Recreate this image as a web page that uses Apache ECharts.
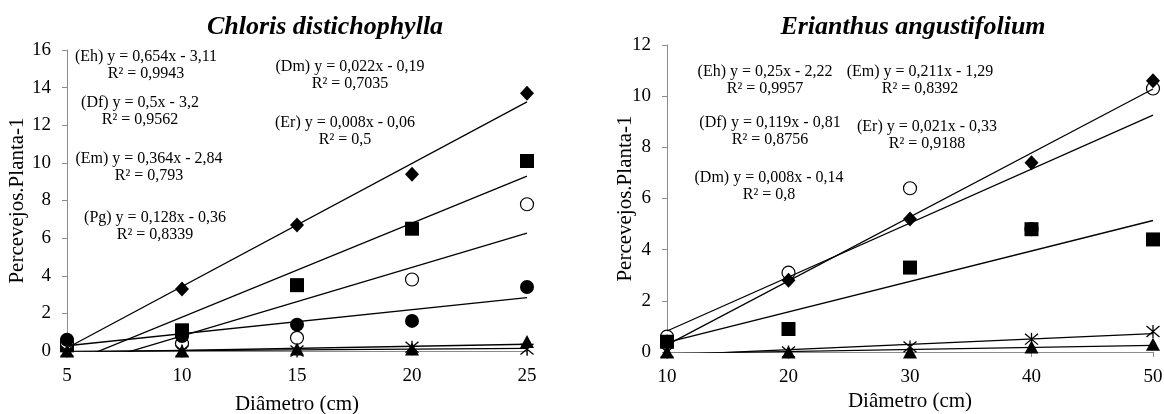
<!DOCTYPE html>
<html>
<head>
<meta charset="utf-8">
<script src="https://cdn.jsdelivr.net/npm/echarts@6/dist/echarts.min.js"></script>
<style>
  html, body { margin: 0; padding: 0; background: #fff; }
  #chart { width: 1164px; height: 414px; }
</style>
</head>
<body>
<div id="chart"></div>
<script>
// Chloris distichophylla (left)
var xLeft = [5, 10, 15, 20, 25];
var ehLeft = [0.4, 3.3, 6.7, 9.4, 13.7];
var dfLeft = [0.3, 1.1, 3.5, 6.5, 10.1];
var emLeft = [0.4, 0.4, 0.7, 3.8, 7.8];
var pgLeft = [0.6, 0.8, 1.4, 1.6, 3.4];
var dmLeft = [0, 0, 0.1, 0.1, 0.5];
var erLeft = [0, 0, 0, 0.2, 0.1];

// Erianthus angustifolium (right)
var xRight = [10, 20, 30, 40, 50];
var emRight = [0.6, 3.1, 6.4, 4.8, 10.3];
var ehRight = [0.4, 2.8, 5.2, 7.4, 10.6];
var dfRight = [0.4, 0.9, 3.3, 4.8, 4.4];
var erRight = [0, 0, 0.2, 0.5, 0.8];
var dmRight = [0, 0, 0, 0.2, 0.3];

// trendlines: slope, intercept
var slopeLeft = [0.654, 0.5, 0.364, 0.128, 0.022, 0.008];
var interLeft = [-3.11, -3.2, -2.84, -0.36, -0.19, -0.06];
var slopeRight = [0.25, 0.119, 0.008, 0.211, 0.021];
var interRight = [-2.22, -0.81, -0.14, -1.29, -0.33];

// tick labels
var xTicksLeft = [5, 10, 15, 20, 25];
var yTicksLeft = [0, 2, 4, 6, 8, 10, 12, 14, 16];
var xTicksRight = [10, 20, 30, 40, 50];
var yTicksRight = [0, 2, 4, 6, 8, 10, 12];

var eqLeft = ['(Eh) y = 0,654x - 3,11\nR² = 0,9943', '(Df) y = 0,5x - 3,2\nR² = 0,9562',
  '(Em) y = 0,364x - 2,84\nR² = 0,793', '(Pg) y = 0,128x - 0,36\nR² = 0,8339',
  '(Dm) y = 0,022x - 0,19\nR² = 0,7035', '(Er) y = 0,008x - 0,06\nR² = 0,5'];
var eqRight = ['(Eh) y = 0,25x - 2,22\nR² = 0,9957', '(Df) y = 0,119x - 0,81\nR² = 0,8756',
  '(Dm) y = 0,008x - 0,14\nR² = 0,8', '(Em) y = 0,211x - 1,29\nR² = 0,8392',
  '(Er) y = 0,021x - 0,33\nR² = 0,9188'];

var titles = ['Chloris distichophylla', 'Erianthus angustifolium'];
var xName = 'Diâmetro (cm)';
var yName = 'Percevejos.Planta-1';

var serif = '"Liberation Serif", "Times New Roman", serif';
var gray = '#8c8c8c';

// label placement (center x, top y)
var eqPosLeft = [[146, 48], [140, 94], [149, 150], [155, 209], [350, 58], [345, 114]];
var eqPosRight = [[765, 63], [770, 114], [769, 169], [920, 63], [927, 118]];

var chart = echarts.init(document.getElementById('chart'));

function pts(xs, ys) {
  return xs.map(function (x, i) { return [x, ys[i]]; });
}

var marks = {
  diamond: { symbol: 'diamond', symbolSize: [14, 15], itemStyle: { color: '#000', opacity: 1 } },
  square: { symbol: 'rect', symbolSize: 14, itemStyle: { color: '#000', opacity: 1 } },
  open: { symbol: 'circle', symbolSize: 13, itemStyle: { color: '#fff', borderColor: '#000', borderWidth: 1.2, opacity: 1 } },
  dot: { symbol: 'circle', symbolSize: 14, itemStyle: { color: '#000', opacity: 1 } },
  tri: { symbol: 'triangle', symbolSize: [14, 13], itemStyle: { color: '#000', opacity: 1 } },
  star: { symbol: 'path://M0 0L10 10M10 0L0 10M5 -1L5 11', symbolSize: 13,
    itemStyle: { color: 'none', borderColor: '#000', borderWidth: 1.3, opacity: 1 } }
};

function scatter(idx, xs, ys, m) {
  return Object.assign({
    type: 'scatter', xAxisIndex: idx, yAxisIndex: idx,
    data: pts(xs, ys), z: 2, clip: false, silent: true
  }, JSON.parse(JSON.stringify(m)));
}

function trend(idx, x0, x1, a, b) {
  return {
    type: 'line', xAxisIndex: idx, yAxisIndex: idx, z: 3, clip: true,
    symbol: 'none', silent: true,
    lineStyle: { color: '#000', width: 1.3 },
    data: [[x0, a * x0 + b], [x1, a * x1 + b]]
  };
}

var series = [
  scatter(0, xLeft, ehLeft, marks.diamond),
  scatter(0, xLeft, dfLeft, marks.square),
  scatter(0, xLeft, emLeft, marks.open),
  scatter(0, xLeft, pgLeft, marks.dot),
  scatter(0, xLeft, dmLeft, marks.tri),
  scatter(0, xLeft, erLeft, marks.star),
  scatter(1, xRight, emRight, marks.open),
  scatter(1, xRight, ehRight, marks.diamond),
  scatter(1, xRight, dfRight, marks.square),
  scatter(1, xRight, erRight, marks.star),
  scatter(1, xRight, dmRight, marks.tri)
];
slopeLeft.forEach(function (a, i) {
  series.push(trend(0, xLeft[0], xLeft[xLeft.length - 1], a, interLeft[i]));
});
slopeRight.forEach(function (a, i) {
  series.push(trend(1, xRight[0], xRight[xRight.length - 1], a, interRight[i]));
});

function xAxis(idx, min, max, step) {
  return {
    type: 'value', gridIndex: idx, min: min, max: max, interval: step,
    axisLine: { show: true, lineStyle: { color: gray, width: 1 } },
    axisTick: { show: true, length: 5, lineStyle: { color: gray } },
    axisLabel: { show: false },
    splitLine: { show: false }
  };
}
function yAxis(idx, max) {
  return {
    type: 'value', gridIndex: idx, min: 0, max: max, interval: 2,
    axisLine: { show: true, lineStyle: { color: gray, width: 1 } },
    axisTick: { show: true, length: 5, lineStyle: { color: gray } },
    axisLabel: { show: false },
    splitLine: { show: false }
  };
}

chart.setOption({
  animation: false,
  backgroundColor: '#fff',
  grid: [
    { left: 67, top: 50, width: 460, height: 301 },
    { left: 667, top: 45, width: 486, height: 307 }
  ],
  xAxis: [xAxis(0, 5, 25, 5), xAxis(1, 10, 50, 10)],
  yAxis: [yAxis(0, 16), yAxis(1, 12)],
  series: series
});

// all text drawn as graphic text so the serif font is kept
var graphic = [];
function addText(txt, x, y, font, opts) {
  opts = opts || {};
  graphic.push({
    type: 'text', x: x, y: y, rotation: opts.rotation || 0, silent: true,
    style: { text: txt, font: font, fill: '#000',
      align: opts.align || 'center', verticalAlign: opts.va || 'top',
      textAlign: opts.align || 'center', textVerticalAlign: opts.va || 'top',
      lineHeight: opts.lh || 17 }
  });
}
eqLeft.forEach(function (t, i) { addText(t, eqPosLeft[i][0], eqPosLeft[i][1], '16px ' + serif); });
eqRight.forEach(function (t, i) { addText(t, eqPosRight[i][0], eqPosRight[i][1], '16px ' + serif); });
addText(titles[0], 325, 12, 'italic bold 26px ' + serif, { lh: 30 });
addText(titles[1], 913, 12, 'italic bold 26px ' + serif, { lh: 30 });

function axisText(gi, xTicks, yTicks, xNameY, yNameX) {
  var x0 = xTicks[0], y0 = yTicks[0];
  xTicks.forEach(function (v) {
    var p = chart.convertToPixel({ gridIndex: gi }, [v, y0]);
    addText(String(v), p[0], p[1] + 25, '19px ' + serif, { va: 'middle', lh: 20 });
  });
  yTicks.forEach(function (v) {
    var p = chart.convertToPixel({ gridIndex: gi }, [x0, v]);
    addText(String(v), p[0] - 16, p[1], '19px ' + serif, { align: 'right', va: 'middle', lh: 20 });
  });
  var a = chart.convertToPixel({ gridIndex: gi }, [x0, y0]);
  var b = chart.convertToPixel({ gridIndex: gi }, [xTicks[xTicks.length - 1], yTicks[yTicks.length - 1]]);
  addText(xName, (a[0] + b[0]) / 2, xNameY, '21px ' + serif, { va: 'middle', lh: 22 });
  addText(yName, yNameX, (a[1] + b[1]) / 2, '21px ' + serif, { va: 'middle', lh: 22, rotation: Math.PI / 2 });
}
axisText(0, xTicksLeft, yTicksLeft, 404, 17);
axisText(1, xTicksRight, yTicksRight, 401, 625);

chart.setOption({ graphic: graphic });
</script>
</body>
</html>
